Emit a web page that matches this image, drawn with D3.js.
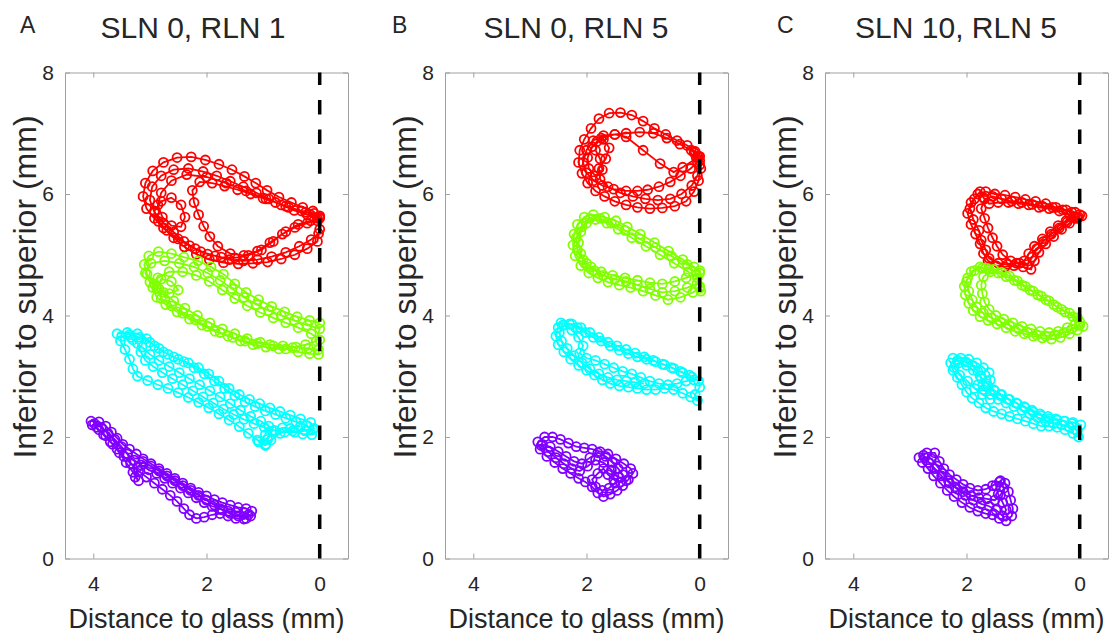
<!DOCTYPE html>
<html><head><meta charset="utf-8">
<script src="https://cdn.jsdelivr.net/npm/d3@7"></script>
<style>
body{margin:0;background:#fff}
svg text{font-family:"Liberation Sans",Arial,Helvetica,sans-serif;fill:#262626}
</style>
</head><body>
<svg id="chart" width="1115" height="633"></svg>
<script>
// ---- labels / ticks ----
const panelLetters = ["A", "B", "C"];
const panelTitles = ["SLN 0, RLN 1", "SLN 0, RLN 5", "SLN 10, RLN 5"];
const xTicks = [4, 2, 0];
const yTicks = [0, 2, 4, 6, 8];
const xLabel = "Distance to glass (mm)";
const yLabel = "Inferior to superior (mm)";
const seriesColors = {red: "#ff0000", green: "#80ff00", cyan: "#00ffff", purple: "#8000ff"};

// ---- Panel A: SLN 0, RLN 1 ----
const redA = [[0.00,5.62],[0.12,5.72],[0.30,5.78],[0.50,5.86],[0.72,5.95],[0.93,6.06],[1.13,6.18],[1.33,6.29],[1.55,6.40],[1.78,6.49],[2.02,6.56],[2.27,6.61],[2.52,6.60],[2.76,6.52],[2.95,6.38],[3.08,6.18],[3.12,5.96],[3.06,5.76],[2.92,5.60],[2.76,5.44],[2.58,5.28],[2.39,5.13],[2.18,5.01],[1.95,4.92],[1.70,4.87],[1.44,4.85],[1.18,4.86],[0.92,4.88],[0.68,4.93],[0.44,5.00],[0.22,5.10],[0.04,5.22],[0.00,5.42],
[0.04,5.60],[0.22,5.66],[0.45,5.73],[0.68,5.82],[0.90,5.92],[1.12,6.02],[1.35,6.12],[1.58,6.21],[1.82,6.30],[2.06,6.37],[2.32,6.42],[2.58,6.40],[2.80,6.30],[2.96,6.12],[3.00,5.90],[2.92,5.70],[2.76,5.52],[2.58,5.37],[2.40,5.22],[2.20,5.10],[1.98,5.01],[1.74,4.96],[1.50,4.95],[1.26,4.99],[1.03,5.08],[0.82,5.22],[0.60,5.38],[0.38,5.50],[0.16,5.56],[0.00,5.60],
[0.10,5.68],[0.32,5.72],[0.55,5.78],[0.78,5.86],[1.00,5.93],[1.22,6.00],[1.45,6.07],[1.68,6.13],[1.90,6.18],[2.12,6.20],[2.25,6.06],[2.22,5.86],[2.14,5.66],[2.05,5.47],[1.94,5.30],[1.80,5.14],[1.58,5.02],[1.34,4.99],[1.10,5.06],[0.88,5.20],[0.66,5.34],[0.44,5.45],[0.22,5.52],[0.04,5.56],
[0.00,5.64],[0.25,5.70],[0.60,5.80],[0.95,5.92],[1.30,6.05],[1.65,6.18],[2.00,6.28],[2.35,6.32],[2.62,6.22],[2.80,6.02],[2.86,5.82],[2.78,5.62],[2.62,5.48],[2.45,5.46],[2.38,5.62],[2.45,5.82],[2.62,5.94],[2.80,5.88],[2.92,5.72],[2.85,5.55],[2.70,5.40],[2.50,5.26],[2.30,5.15],[2.10,5.05],[1.85,4.98],[1.60,4.92],[1.35,4.90],[1.10,4.92],[0.85,4.97],[0.60,5.04],[0.36,5.14],[0.15,5.25],[0.02,5.35]];
const greenA = [[0.00,3.88],[0.18,3.92],[0.40,3.98],[0.62,4.06],[0.85,4.15],[1.08,4.26],[1.30,4.38],[1.50,4.52],[1.70,4.68],[1.92,4.80],[2.15,4.90],[2.40,4.96],[2.62,5.02],[2.85,5.05],[3.02,4.98],[3.10,4.84],[3.05,4.68],[2.92,4.52],[2.76,4.38],[2.58,4.24],[2.38,4.12],[2.16,4.00],[1.94,3.88],[1.72,3.78],[1.50,3.70],[1.28,3.62],[1.05,3.56],[0.82,3.50],[0.60,3.45],[0.38,3.40],[0.18,3.37],[0.02,3.36],
[0.00,3.60],[0.15,3.70],[0.38,3.80],[0.60,3.88],[0.82,3.96],[1.05,4.05],[1.28,4.16],[1.50,4.28],[1.72,4.42],[1.95,4.56],[2.18,4.66],[2.42,4.72],[2.66,4.72],[2.86,4.62],[2.95,4.46],[2.88,4.30],[2.72,4.18],[2.52,4.06],[2.30,3.94],[2.08,3.84],[1.85,3.74],[1.62,3.66],[1.40,3.58],[1.18,3.52],[0.95,3.48],[0.72,3.45],[0.48,3.47],[0.25,3.52],[0.06,3.58],
[0.00,3.78],[0.22,3.84],[0.45,3.92],[0.68,4.00],[0.90,4.08],[1.12,4.18],[1.34,4.30],[1.55,4.44],[1.76,4.58],[1.98,4.70],[2.22,4.80],[2.48,4.86],[2.74,4.90],[2.98,4.86],[3.08,4.70],[3.00,4.55],[2.84,4.44],[2.66,4.36],[2.50,4.42],[2.62,4.56],[2.80,4.60],[2.88,4.44],[2.80,4.28],[2.62,4.16],[2.42,4.04],[2.20,3.93],[1.98,3.82],[1.76,3.72],[1.54,3.64],[1.32,3.58],[1.10,3.54],[0.88,3.52],[0.65,3.50],[0.42,3.48],[0.20,3.46],[0.02,3.44]];
const cyanA = [[3.58,3.70],[3.40,3.72],[3.22,3.70],[3.06,3.62],[2.92,3.50],[2.76,3.40],[2.58,3.32],[2.40,3.24],[2.22,3.14],[2.04,3.04],[1.86,2.92],[1.68,2.80],[1.50,2.68],[1.32,2.58],[1.14,2.50],[0.96,2.43],[0.78,2.37],[0.60,2.31],[0.42,2.25],[0.24,2.19],[0.12,2.12],[0.14,2.04],[0.30,2.05],[0.48,2.10],[0.66,2.15],[0.84,2.10],[0.92,1.96],[0.95,1.88],[1.10,1.95],[1.26,2.06],[1.42,2.17],[1.60,2.28],[1.78,2.38],[1.96,2.48],[2.14,2.57],[2.32,2.65],[2.50,2.73],[2.68,2.80],[2.86,2.86],[3.04,2.93],[3.22,3.00],[3.30,3.12],[3.36,3.28],[3.44,3.44],[3.52,3.58],
[3.50,3.66],[3.34,3.64],[3.22,3.54],[3.16,3.40],[3.08,3.26],[2.94,3.16],[2.78,3.06],[2.60,2.96],[2.42,2.86],[2.24,2.76],[2.06,2.66],[1.88,2.56],[1.70,2.46],[1.52,2.37],[1.34,2.29],[1.16,2.22],[0.98,2.16],[0.80,2.11],[0.62,2.08],[0.44,2.08],[0.26,2.10],[0.10,2.14],[0.16,2.24],[0.34,2.30],[0.52,2.36],[0.70,2.42],[0.88,2.48],[1.06,2.55],[1.24,2.62],[1.42,2.70],[1.60,2.80],[1.78,2.92],[1.96,3.04],[2.14,3.14],[2.32,3.22],[2.50,3.28],[2.68,3.36],[2.84,3.46],[3.00,3.56],[3.18,3.64],[3.36,3.68],
[3.30,3.60],[3.14,3.48],[3.00,3.36],[2.84,3.26],[2.66,3.16],[2.48,3.06],[2.30,2.96],[2.12,2.86],[1.94,2.76],[1.76,2.66],[1.58,2.55],[1.40,2.44],[1.22,2.34],[1.04,2.26],[0.90,2.18],[0.96,2.04],[1.08,1.92],[0.96,1.86],[0.86,1.95],[0.70,2.06],[0.52,2.14],[0.34,2.18]];
const purpleA = [[4.04,2.26],[3.90,2.25],[3.78,2.18],[3.68,2.08],[3.58,1.98],[3.48,1.88],[3.36,1.80],[3.24,1.72],[3.12,1.64],[2.98,1.56],[2.84,1.48],[2.70,1.40],[2.56,1.32],[2.42,1.24],[2.28,1.16],[2.14,1.09],[2.00,1.03],[1.86,0.97],[1.72,0.92],[1.58,0.88],[1.44,0.84],[1.30,0.82],[1.20,0.78],[1.22,0.70],[1.34,0.65],[1.48,0.66],[1.62,0.70],[1.76,0.74],[1.90,0.72],[2.04,0.68],[2.18,0.66],[2.30,0.72],[2.40,0.82],[2.52,0.94],[2.64,1.04],[2.78,1.14],[2.92,1.24],[3.06,1.34],[3.20,1.44],[3.34,1.56],[3.46,1.68],[3.58,1.80],[3.70,1.92],[3.82,2.04],[3.94,2.16],
[3.98,2.22],[3.86,2.16],[3.74,2.06],[3.62,1.96],[3.50,1.84],[3.40,1.72],[3.28,1.62],[3.16,1.54],[3.02,1.46],[2.88,1.40],[2.74,1.32],[2.60,1.24],[2.46,1.16],[2.32,1.08],[2.18,1.00],[2.04,0.92],[1.90,0.86],[1.76,0.82],[1.62,0.78],[1.48,0.76],[1.34,0.76],[1.26,0.72],[1.30,0.66],[1.44,0.70],[1.58,0.74],[1.72,0.80],[1.86,0.88],[2.00,0.96],[2.14,1.04],[2.28,1.12],[2.42,1.20],[2.56,1.28],[2.70,1.36],[2.84,1.44],[2.98,1.52],[3.12,1.60],[3.22,1.50],[3.26,1.34],[3.20,1.28],[3.30,1.42],[3.42,1.58],[3.54,1.74],[3.66,1.88],[3.78,2.02],[3.90,2.12],[4.02,2.20]];

// ---- Panel B: SLN 0, RLN 5 ----
const redB = [[0.00,6.55],[0.08,6.70],[0.22,6.80],[0.40,6.88],[0.60,6.98],[0.80,7.08],[1.00,7.20],[1.20,7.30],[1.40,7.34],[1.60,7.33],[1.78,7.24],[1.92,7.08],[2.04,6.90],[2.12,6.72],[2.14,6.52],[2.08,6.34],[1.98,6.18],[1.84,6.05],[1.68,5.96],[1.50,5.88],[1.30,5.82],[1.10,5.78],[0.88,5.76],[0.66,5.77],[0.44,5.80],[0.24,5.88],[0.10,6.04],[0.02,6.22],[-0.02,6.42],
[0.02,6.62],[0.15,6.72],[0.35,6.82],[0.58,6.92],[0.82,7.00],[1.06,7.02],[1.30,7.00],[1.50,6.98],[1.70,6.96],[1.88,6.88],[2.00,6.72],[2.06,6.52],[2.00,6.35],[1.88,6.22],[1.72,6.14],[1.52,6.08],[1.30,6.05],[1.10,6.05],[0.92,6.07],[0.72,6.12],[0.52,6.20],[0.34,6.30],[0.16,6.42],[0.04,6.52],
[0.06,6.60],[0.10,6.68],[0.00,6.62],[0.30,6.44],[0.46,6.36],[0.70,6.50],[1.00,6.72],[1.30,6.94],[1.50,6.98],[1.74,6.92],[1.90,6.78],[1.98,6.60],[1.96,6.42],[1.84,6.30],[1.72,6.40],[1.76,6.58],[1.84,6.72],[1.82,6.86],[1.70,6.90],[1.60,6.76],[1.66,6.58],[1.78,6.42],[1.76,6.24],[1.62,6.12],[1.40,6.02],[1.18,5.96],[0.96,5.92],[0.74,5.90],[0.52,5.92],[0.32,6.00],[0.14,6.14],[0.04,6.30],[0.00,6.48],[0.04,6.62]];
const greenB = [[0.00,4.70],[0.10,4.80],[0.30,4.92],[0.55,5.06],[0.80,5.20],[1.05,5.34],[1.28,5.46],[1.48,5.56],[1.68,5.62],[1.88,5.66],[2.04,5.62],[2.16,5.50],[2.22,5.34],[2.24,5.16],[2.20,4.98],[2.10,4.82],[1.96,4.70],[1.80,4.62],[1.62,4.55],[1.42,4.50],[1.22,4.46],[1.00,4.40],[0.78,4.33],[0.56,4.26],[0.34,4.30],[0.12,4.38],[0.00,4.45],
[0.04,4.62],[0.20,4.72],[0.45,4.86],[0.70,5.00],[0.95,5.14],[1.20,5.28],[1.44,5.42],[1.64,5.52],[1.84,5.58],[2.00,5.52],[2.10,5.38],[2.14,5.20],[2.10,5.02],[2.00,4.86],[1.86,4.74],[1.70,4.66],[1.50,4.60],[1.30,4.56],[1.10,4.50],[0.88,4.44],[0.66,4.38],[0.44,4.40],[0.22,4.46],[0.05,4.52],
[0.00,4.74],[0.22,4.84],[0.50,4.98],[0.78,5.12],[1.06,5.26],[1.32,5.40],[1.56,5.52],[1.76,5.60],[1.94,5.60],[2.08,5.46],[2.18,5.28],[2.16,5.08],[2.06,4.92],[1.92,4.80],[1.74,4.72],[1.54,4.66],[1.32,4.62],[1.10,4.58],[0.88,4.54],[0.66,4.52],[0.44,4.56],[0.24,4.62],[0.06,4.68],[0.00,4.48],[-0.02,4.40]];
const cyanB = [[2.45,3.88],[2.30,3.86],[2.16,3.80],[2.02,3.72],[1.88,3.64],[1.74,3.58],[1.58,3.50],[1.42,3.43],[1.26,3.37],[1.10,3.32],[0.94,3.28],[0.78,3.24],[0.62,3.19],[0.46,3.13],[0.30,3.06],[0.14,2.99],[0.02,2.92],[0.00,2.82],[0.08,2.70],[0.04,2.60],[0.16,2.66],[0.30,2.72],[0.46,2.78],[0.62,2.80],[0.78,2.78],[0.94,2.78],[1.10,2.80],[1.26,2.82],[1.42,2.84],[1.58,2.88],[1.72,2.94],[1.86,3.02],[2.00,3.10],[2.14,3.18],[2.28,3.28],[2.40,3.40],[2.50,3.52],[2.54,3.66],[2.50,3.80],
[2.40,3.84],[2.26,3.76],[2.14,3.64],[2.06,3.50],[2.12,3.38],[2.00,3.30],[1.84,3.26],[1.68,3.20],[1.52,3.14],[1.36,3.08],[1.20,3.04],[1.04,2.98],[0.88,2.92],[0.72,2.88],[0.56,2.86],[0.40,2.88],[0.24,2.92],[0.10,2.94],[0.18,3.02],[0.34,3.08],[0.50,3.14],[0.66,3.20],[0.82,3.26],[0.98,3.32],[1.14,3.38],[1.30,3.44],[1.46,3.50],[1.62,3.56],[1.78,3.64],[1.94,3.72],[2.10,3.80],[2.26,3.86],[2.42,3.84],[2.48,3.72],[2.44,3.58],[2.34,3.46],[2.22,3.34],[2.08,3.22],[1.94,3.12],[1.78,3.04],[1.62,2.98],[1.46,2.94],[1.30,2.92],[1.14,2.90],[0.98,2.88]];
const purpleB = [[2.86,1.92],[2.74,2.00],[2.60,2.00],[2.46,1.96],[2.32,1.90],[2.18,1.84],[2.04,1.82],[1.90,1.80],[1.76,1.76],[1.62,1.72],[1.48,1.64],[1.34,1.56],[1.22,1.48],[1.18,1.40],[1.26,1.30],[1.36,1.20],[1.46,1.12],[1.58,1.06],[1.70,1.02],[1.80,1.08],[1.90,1.18],[2.02,1.26],[2.14,1.32],[2.28,1.40],[2.42,1.48],[2.56,1.58],[2.70,1.68],[2.82,1.80],
[2.78,1.88],[2.64,1.84],[2.50,1.76],[2.36,1.68],[2.22,1.60],[2.08,1.56],[1.94,1.66],[1.80,1.74],[1.66,1.68],[1.54,1.58],[1.44,1.48],[1.36,1.38],[1.30,1.28],[1.40,1.26],[1.52,1.30],[1.62,1.38],[1.70,1.48],[1.80,1.40],[1.90,1.30],[1.84,1.18],[1.72,1.12],[1.60,1.16],[1.50,1.24],[1.44,1.34],[1.56,1.46],[1.70,1.58],[1.84,1.62],[1.98,1.52],[2.12,1.44],[2.26,1.48],[2.40,1.56],[2.54,1.66],[2.68,1.76],[2.80,1.86]];

// ---- Panel C: SLN 10, RLN 5 ----
const redC = [[-0.04,5.64],[0.08,5.70],[0.24,5.74],[0.42,5.78],[0.60,5.84],[0.78,5.88],[0.96,5.91],[1.14,5.95],[1.32,5.98],[1.50,6.00],[1.66,6.04],[1.80,6.00],[1.92,5.86],[1.98,5.68],[1.92,5.50],[1.84,5.34],[1.76,5.18],[1.70,5.02],[1.62,4.90],[1.48,4.82],[1.32,4.80],[1.16,4.82],[1.00,4.80],[0.86,4.76],[0.80,4.90],[0.72,5.04],[0.60,5.18],[0.46,5.30],[0.32,5.42],[0.18,5.52],[0.04,5.60],
[0.00,5.66],[0.14,5.70],[0.30,5.74],[0.48,5.78],[0.66,5.80],[0.84,5.83],[1.02,5.86],[1.20,5.88],[1.38,5.92],[1.54,5.96],[1.68,5.92],[1.74,5.76],[1.68,5.60],[1.62,5.44],[1.54,5.28],[1.46,5.14],[1.36,5.00],[1.22,4.90],[1.06,4.86],[0.92,4.84],[0.84,4.96],[0.76,5.10],[0.64,5.22],[0.50,5.34],[0.36,5.44],[0.22,5.54],[0.08,5.60],
[0.02,5.62],[0.18,5.66],[0.36,5.72],[0.54,5.76],[0.72,5.78],[0.90,5.82],[1.08,5.84],[1.26,5.86],[1.44,5.86],[1.60,5.84],[1.70,5.94],[1.76,6.04],[1.86,5.92],[1.94,5.76],[1.88,5.58],[1.78,5.40],[1.74,5.24],[1.66,5.08],[1.60,4.94],[1.44,4.86],[1.28,4.84],[1.12,4.86],[0.98,4.90],[0.90,5.02],[0.80,5.14],[0.66,5.26],[0.52,5.38],[0.38,5.48],[0.24,5.56],[0.10,5.62]];
const greenC = [[1.72,4.78],[1.86,4.74],[1.98,4.62],[2.04,4.48],[2.02,4.34],[1.96,4.20],[1.88,4.08],[1.76,3.98],[1.62,3.92],[1.46,3.86],[1.30,3.80],[1.14,3.74],[0.98,3.70],[0.82,3.66],[0.66,3.63],[0.50,3.61],[0.34,3.64],[0.18,3.70],[0.04,3.76],[-0.06,3.82],[0.00,3.90],[0.12,3.98],[0.26,4.06],[0.40,4.14],[0.54,4.24],[0.68,4.32],[0.82,4.40],[0.96,4.48],[1.10,4.57],[1.24,4.65],[1.38,4.71],[1.52,4.76],[1.66,4.78],
[1.58,4.72],[1.70,4.64],[1.74,4.50],[1.72,4.36],[1.68,4.22],[1.60,4.10],[1.48,4.00],[1.34,3.94],[1.18,3.88],[1.02,3.82],[0.86,3.78],[0.70,3.74],[0.54,3.72],[0.38,3.74],[0.22,3.80],[0.08,3.86],[0.04,3.96],[0.18,4.04],[0.32,4.10],[0.46,4.18],[0.60,4.26],[0.74,4.34],[0.88,4.42],[1.02,4.50],[1.16,4.58],[1.30,4.64],[1.44,4.70],[1.60,4.76],[1.76,4.80],[1.92,4.72],[2.00,4.56],[1.96,4.40],[1.90,4.26],[1.82,4.14],[1.70,4.04],[1.56,3.96],[1.40,3.90],[1.24,3.84],[1.08,3.78],[0.92,3.72],[0.76,3.68],[0.60,3.66],[0.44,3.68],[0.28,3.72],[0.14,3.78],[0.00,3.84]];
const cyanC = [[2.24,3.30],[2.10,3.30],[1.96,3.28],[1.82,3.22],[1.70,3.14],[1.60,3.06],[1.58,2.94],[1.62,2.84],[1.50,2.76],[1.38,2.70],[1.24,2.62],[1.10,2.55],[0.96,2.48],[0.82,2.41],[0.68,2.35],[0.54,2.30],[0.40,2.28],[0.26,2.26],[0.12,2.24],[-0.02,2.20],[0.04,2.10],[0.02,2.00],[0.12,2.06],[0.26,2.12],[0.40,2.16],[0.54,2.18],[0.68,2.18],[0.82,2.22],[0.96,2.26],[1.10,2.30],[1.24,2.34],[1.38,2.38],[1.52,2.42],[1.66,2.48],[1.78,2.56],[1.90,2.64],[2.00,2.74],[2.08,2.86],[2.16,2.98],[2.24,3.10],[2.28,3.22],
[2.16,3.26],[2.02,3.24],[1.90,3.18],[1.80,3.08],[1.74,2.96],[1.80,2.86],[1.70,2.78],[1.58,2.70],[1.44,2.62],[1.30,2.56],[1.16,2.50],[1.02,2.44],[0.88,2.38],[0.74,2.32],[0.60,2.26],[0.46,2.22],[0.32,2.20],[0.18,2.16],[0.06,2.12],[0.14,2.22],[0.28,2.26],[0.42,2.30],[0.56,2.34],[0.70,2.38],[0.84,2.44],[0.98,2.50],[1.12,2.56],[1.26,2.62],[1.40,2.70],[1.52,2.78],[1.64,2.88],[1.76,3.00],[1.88,3.10],[2.00,3.18],[2.14,3.22],[2.22,3.14],[2.12,3.02],[1.98,2.92],[1.86,2.80],[1.72,2.70],[1.58,2.62]];
const purpleC = [[2.84,1.66],[2.70,1.74],[2.56,1.74],[2.48,1.60],[2.40,1.48],[2.30,1.38],[2.18,1.30],[2.06,1.22],[1.94,1.16],[1.80,1.12],[1.66,1.14],[1.54,1.20],[1.42,1.26],[1.32,1.24],[1.26,1.10],[1.22,0.96],[1.18,0.82],[1.20,0.70],[1.30,0.62],[1.42,0.66],[1.54,0.72],[1.66,0.74],[1.80,0.78],[1.94,0.84],[2.08,0.92],[2.22,1.02],[2.34,1.12],[2.46,1.24],[2.58,1.36],[2.68,1.48],[2.78,1.58],
[2.74,1.66],[2.62,1.64],[2.52,1.52],[2.42,1.40],[2.32,1.28],[2.20,1.18],[2.06,1.10],[1.92,1.04],[1.78,1.00],[1.64,0.98],[1.50,0.96],[1.40,1.04],[1.34,1.16],[1.40,1.28],[1.48,1.20],[1.44,1.06],[1.36,0.92],[1.30,0.80],[1.36,0.70],[1.48,0.80],[1.60,0.86],[1.74,0.90],[1.88,0.96],[2.02,1.04],[2.16,1.14],[2.30,1.24],[2.44,1.36],[2.56,1.48],[2.66,1.58],[2.76,1.70]];

const panels = [
  {red: redA, green: greenA, cyan: cyanA, purple: purpleA},
  {red: redB, green: greenB, cyan: cyanB, purple: purpleB},
  {red: redC, green: greenC, cyan: cyanC, purple: purpleC}
];

// ---- layout ----
const svg = d3.select("#chart");
const panelLeft = [65, 445, 825];
const panelW = 283, plotTop = 72.5, plotBottom = 558.5;
const letterX = [20, 392, 777];
const titleX = [193, 576, 956];
const axisGray = "#a0a0a0";

panels.forEach((p, i) => {
  const x = d3.scaleLinear().domain([4.5, -0.5]).range([panelLeft[i], panelLeft[i] + panelW]);
  const y = d3.scaleLinear().domain([0, 8]).range([plotBottom, plotTop]);
  const g = svg.append("g");

  // axes (ticks inward, box)
  const ax = [
    g.append("g").attr("transform", `translate(0,${plotBottom})`)
      .call(d3.axisBottom(x).tickValues(xTicks).tickSizeInner(-5).tickSizeOuter(0).tickPadding(18).tickFormat(d3.format("d"))),
    g.append("g").attr("transform", `translate(${panelLeft[i]},0)`)
      .call(d3.axisLeft(y).tickValues(yTicks).tickSizeInner(-5).tickSizeOuter(0).tickPadding(11).tickFormat(d3.format("d"))),
    g.append("g").attr("transform", `translate(0,${plotTop})`)
      .call(d3.axisTop(x).tickValues(xTicks).tickSizeInner(-5).tickSizeOuter(0).tickFormat("")),
    g.append("g").attr("transform", `translate(${panelLeft[i] + panelW},0)`)
      .call(d3.axisRight(y).tickValues(yTicks).tickSizeInner(-5).tickSizeOuter(0).tickFormat(""))
  ];
  ax.forEach(a => {
    a.select(".domain").attr("stroke", axisGray).attr("stroke-width", 1);
    a.selectAll(".tick line").attr("stroke", axisGray).attr("stroke-width", 1);
    a.selectAll(".tick text").attr("fill", "#262626").style("font-size", "21px")
      .style("font-family", '"Liberation Sans", Arial, sans-serif');
  });

  // series
  ["red", "green", "cyan", "purple"].forEach(k => {
    const data = p[k], col = seriesColors[k];
    g.append("path").datum(data)
      .attr("d", d3.line().x(d => x(d[0])).y(d => y(d[1])))
      .attr("fill", "none").attr("stroke", col).attr("stroke-width", 1.8);
    g.append("g").selectAll("circle").data(data).join("circle")
      .attr("cx", d => x(d[0])).attr("cy", d => y(d[1])).attr("r", 4.5)
      .attr("fill", "none").attr("stroke", col).attr("stroke-width", 1.8);
  });

  // dashed glass line
  g.append("line")
    .attr("x1", x(0)).attr("x2", x(0)).attr("y1", y(0)).attr("y2", y(8))
    .attr("stroke", "#000").attr("stroke-width", 3.5).attr("stroke-dasharray", "14.5,15.1");

  // labels
  g.append("text").attr("x", panelLeft[i] + panelW / 2).attr("y", 628)
    .attr("text-anchor", "middle").style("font-size", "27px").text(xLabel);
  g.append("text").attr("transform", `translate(${panelLeft[i] - 29},287) rotate(-90)`)
    .attr("text-anchor", "middle").style("font-size", "32px").text(yLabel);
  g.append("text").attr("x", titleX[i]).attr("y", 38)
    .attr("text-anchor", "middle").style("font-size", "30px").text(panelTitles[i]);
  g.append("text").attr("x", letterX[i]).attr("y", 33)
    .style("font-size", "23px").text(panelLetters[i]);
});
</script>
</body></html>
